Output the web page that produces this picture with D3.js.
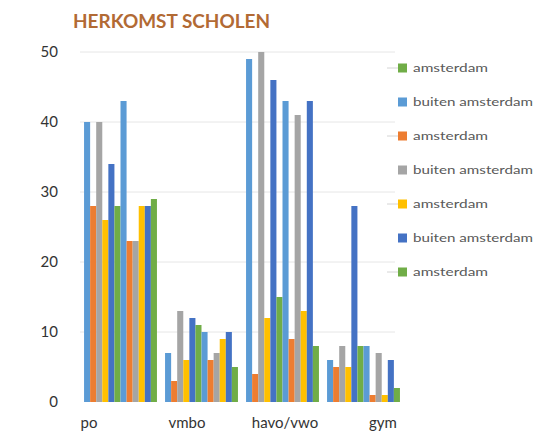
<!DOCTYPE html>
<html>
<head>
<meta charset="utf-8">
<script src="https://cdn.jsdelivr.net/npm/d3@7"></script>
<style>
  body { margin: 0; background: #fff; }
  svg { font-family: Lato, "Open Sans", sans-serif; }
</style>
</head>
<body>
<div id="chart"></div>
<script>
// categories on the x axis
var categories = ["po", "vmbo", "havo/vwo", "gym"];

// twelve series per category, in drawing order
var po      = [40, 28, 40, 26, 34, 28, 43, 23, 23, 28, 28, 29];
var vmbo    = [7, 3, 13, 6, 12, 11, 10, 6, 7, 9, 10, 5];
var havoVwo = [49, 4, 50, 12, 46, 15, 43, 9, 41, 13, 43, 8];
var gym     = [6, 5, 8, 5, 28, 8, 8, 1, 7, 1, 6, 2];

var seriesNames = ["buiten amsterdam", "amsterdam", "buiten amsterdam", "amsterdam",
                   "buiten amsterdam", "amsterdam", "buiten amsterdam", "amsterdam",
                   "buiten amsterdam", "amsterdam", "buiten amsterdam", "amsterdam"];
var palette = ["#5B9BD5", "#ED7D31", "#A5A5A5", "#FFC000", "#4472C4", "#70AD47"];

// only the lower part of the legend is visible
var legendSeries = [5, 6, 7, 8, 9, 10, 11];
var legendLabels = ["amsterdam", "buiten amsterdam", "amsterdam", "buiten amsterdam",
                    "amsterdam", "buiten amsterdam", "amsterdam"];

var yTicks = [0, 10, 20, 30, 40, 50];

function init(){
    var w = 535;
    var h = 432;

    var values = [po, vmbo, havoVwo, gym];
    var data = categories.map(function(c, i){
        return { cat: c, vals: values[i] };
    });

    var svg = d3.select("#chart")
                .append("svg")
                .attr("width", w)
                .attr("height", h);

    svg.append("text")
        .attr("x", 73)
        .attr("y", 28)
        .attr("fill", "#B26A34")
        .style("font-size", "18px")
        .style("font-weight", "bold")
        .attr("textLength", 197)
        .attr("lengthAdjust", "spacingAndGlyphs")
        .text("HERKOMST SCHOLEN");

    var y = d3.scaleLinear()
                .domain([0, 50])
                .range([402, 52]);

    var x0 = d3.scaleBand()
                .domain(categories)
                .range([80, 404])
                .paddingInner(0.1)
                .paddingOuter(0.05);

    var x1 = d3.scaleBand()
                .domain(d3.range(seriesNames.length))
                .range([0, x0.bandwidth()]);

    // category label positions as they appear in the picture
    var xLabel = d3.scalePoint()
                .domain(categories)
                .range([89, 383]);

    // gridlines
    svg.selectAll("line.grid")
        .data(yTicks.filter(function(d){ return d > 0; }))
        .enter()
        .append("line")
        .attr("class", "grid")
        .attr("x1", 80)
        .attr("x2", 395)
        .attr("y1", function(d){ return y(d); })
        .attr("y2", function(d){ return y(d); })
        .attr("stroke", "#e6e6e6")
        .attr("stroke-width", 1);

    svg.selectAll("text.ytick")
        .data(yTicks)
        .enter()
        .append("text")
        .attr("class", "ytick")
        .attr("x", 58)
        .attr("y", function(d){ return y(d); })
        .attr("dy", "0.35em")
        .attr("text-anchor", "end")
        .attr("fill", "#333")
        .style("font-size", "15px")
        .text(function(d){ return d; });

    var groups = svg.selectAll("g.cat")
        .data(data)
        .enter()
        .append("g")
        .attr("class", "cat")
        .attr("transform", function(d){ return "translate(" + x0(d.cat) + ",0)"; });

    groups.selectAll("rect")
        .data(function(d){ return d.vals; })
        .enter()
        .append("rect")
        .attr("x", function(d, i){ return x1(i); })
        .attr("y", function(d){ return y(d); })
        .attr("width", x1.bandwidth())
        .attr("height", function(d){ return y(0) - y(d); })
        .attr("fill", function(d, i){ return palette[i % palette.length]; });

    svg.selectAll("text.xlab")
        .data(categories)
        .enter()
        .append("text")
        .attr("class", "xlab")
        .attr("x", function(d){ return xLabel(d); })
        .attr("y", 428)
        .attr("text-anchor", "middle")
        .attr("fill", "#333")
        .style("font-size", "15px")
        .text(function(d){ return d; });

    // legend
    var legend = svg.selectAll("g.leg")
        .data(legendSeries)
        .enter()
        .append("g")
        .attr("class", "leg")
        .attr("transform", function(d, i){ return "translate(398," + (68 + i * 34) + ")"; });

    legend.filter(function(d, i){ return i % 2 == 0; })
        .append("line")
        .attr("x1", -11)
        .attr("x2", 0)
        .attr("y1", 0)
        .attr("y2", 0)
        .attr("stroke", "#d4d4d4");

    legend.append("rect")
        .attr("x", 0)
        .attr("y", -4.5)
        .attr("width", 9)
        .attr("height", 9)
        .attr("fill", function(d){ return palette[d % palette.length]; });

    legend.append("text")
        .attr("x", 15)
        .attr("y", 0)
        .attr("dy", "0.35em")
        .attr("fill", "#595959")
        .style("font-size", "12px")
        .attr("textLength", function(d, i){ return legendLabels[i].length > 10 ? 120 : 75; })
        .attr("lengthAdjust", "spacingAndGlyphs")
        .text(function(d, i){ return legendLabels[i]; });
}
window.onload = init;
</script>
</body>
</html>
